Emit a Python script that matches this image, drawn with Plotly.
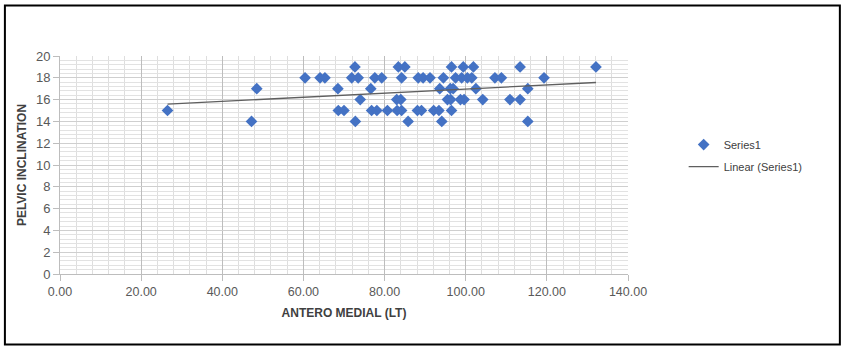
import numpy as np
import plotly.graph_objects as go

# Antero medial (LT) measurements grouped by pelvic inclination value
antero_medial = [
    # inclination 19
    72.7, 83.4, 85.0, 96.5, 99.4, 101.9, 113.4, 132.1,
    # inclination 18
    60.4, 64.1, 65.3, 71.9, 73.5, 77.6, 79.3, 84.2, 88.3, 89.5, 91.2,
    94.5, 97.5, 99.0, 100.4, 101.5, 107.2, 108.8, 119.3,
    # inclination 17
    48.5, 68.5, 76.6, 93.6, 96.2, 96.9, 102.5, 115.3,
    # inclination 16
    74.0, 83.0, 84.0, 95.5, 96.3, 98.7, 99.6, 104.2, 110.9, 113.4,
    # inclination 15
    26.5, 68.6, 70.0, 76.8, 78.1, 80.7, 83.1, 84.2, 88.1, 89.1, 92.1, 93.4, 96.5,
    # inclination 14
    47.2, 72.8, 85.8, 94.1, 115.3,
]
pelvic_inclination = (
    [19] * 8 + [18] * 19 + [17] * 8 + [16] * 10 + [15] * 13 + [14] * 5
)

x_ticks = [0, 20, 40, 60, 80, 100, 120, 140]
y_ticks = list(range(0, 21, 2))

# Least-squares trend line over the observed range
xa = np.array(antero_medial)
ya = np.array(pelvic_inclination, dtype=float)
slope, intercept = np.polyfit(xa, ya, 1)
trend_x = np.array([xa.min(), xa.max()])
trend_y = slope * trend_x + intercept

fig = go.Figure()
fig.add_trace(go.Scatter(
    x=antero_medial, y=pelvic_inclination, mode="markers", name="Series1",
    legendgroup="a",
    marker=dict(symbol="diamond", size=9, color="#4472C4",
                line=dict(width=0)),
))
fig.add_trace(go.Scatter(
    x=trend_x, y=trend_y, mode="lines", name="Linear (Series1)",
    legendgroup="b",
    line=dict(color="#5f5f5f", width=1.3),
))

font_family = "Liberation Sans, Arial, sans-serif"

fig.update_layout(
    width=846, height=351,
    margin=dict(l=60, r=218, t=56, b=77),
    paper_bgcolor="white", plot_bgcolor="white",
    font=dict(family=font_family, size=12, color="#595959"),
    showlegend=True,
    legend=dict(x=1.098, y=0.66, xanchor="left", yanchor="top",
                font=dict(size=11, color="#404040"),
                traceorder="grouped", tracegroupgap=3,
                bgcolor="rgba(0,0,0,0)"),
    xaxis=dict(
        range=[0, 140], tickvals=x_ticks,
        ticktext=[f"{v:.2f}" for v in x_ticks],
        tickfont=dict(size=12.5),
        showgrid=True, gridcolor="#bdbdbd", gridwidth=1,
        minor=dict(dtick=4, tick0=0, showgrid=True, gridcolor="#dedede",
                   gridwidth=1),
        zeroline=False, showline=True, linecolor="#bdbdbd",
        ticks="outside", ticklen=6, tickcolor="#bdbdbd",
        title=dict(text="<b>ANTERO MEDIAL (LT)</b>", standoff=10,
                   font=dict(size=12, color="#404040")),
    ),
    yaxis=dict(
        range=[0, 20], tickvals=y_ticks,
        tickfont=dict(size=13),
        showgrid=True, gridcolor="#cfcfcf", gridwidth=1,
        minor=dict(dtick=0.4, tick0=0, showgrid=True, gridcolor="#e2e2e2",
                   gridwidth=1),
        zeroline=False, showline=True, linecolor="#bdbdbd",
        ticks="outside", ticklen=6, tickcolor="#bdbdbd",
        title=dict(text="<b>PELVIC INCLINATION</b>", standoff=6,
                   font=dict(size=12, color="#404040")),
    ),
    shapes=[dict(
        type="rect", xref="paper", yref="paper",
        x0=-0.097, x1=1.373, y0=-0.323, y1=1.232,
        line=dict(color="black", width=2), fillcolor="rgba(0,0,0,0)",
        layer="below",
    )],
)

fig.write_html("out.html")
